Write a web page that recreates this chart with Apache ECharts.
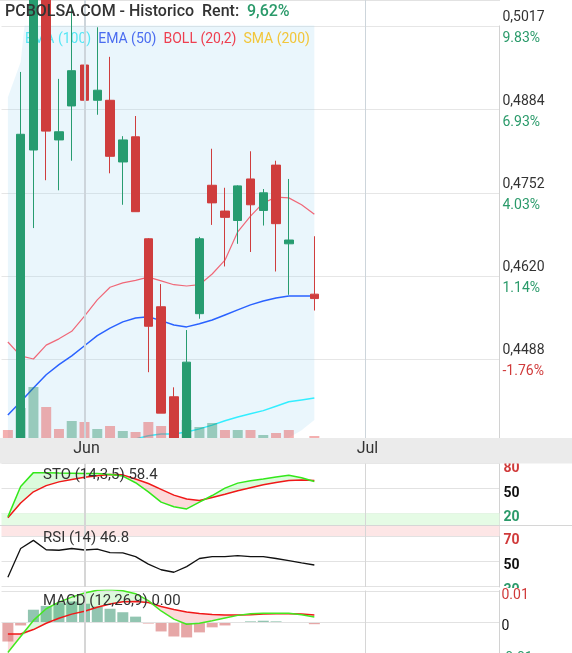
<!DOCTYPE html>
<html><head><meta charset="utf-8">
<script src="https://cdn.jsdelivr.net/npm/echarts@6/dist/echarts.min.js"></script>
<style>html,body{margin:0;padding:0;background:#fff}#c{width:572px;height:653px}</style>
</head><body><div id="c"></div>
<script>
// ---------- DATA ----------
const categories = ['2020-05-22','2020-05-25','2020-05-26','2020-05-27','2020-05-28','2020-05-29',
  '2020-06-01','2020-06-02','2020-06-03','2020-06-04','2020-06-05',
  '2020-06-08','2020-06-09','2020-06-10','2020-06-11','2020-06-12',
  '2020-06-15','2020-06-16','2020-06-17','2020-06-18','2020-06-19',
  '2020-06-22','2020-06-23','2020-06-24','2020-06-25','2020-06-26',
  '2020-06-29','2020-06-30',
  '2020-07-01','2020-07-02','2020-07-03','2020-07-06','2020-07-07','2020-07-08','2020-07-09','2020-07-10',
  '2020-07-13','2020-07-14','2020-07-15'];
const monthNames = ['Ene','Feb','Mar','Abr','May','Jun','Jul','Ago','Sep','Oct','Nov','Dic'];

// [open, close, low, high]
const candles = [
  [0.4335,0.4310,0.4300,0.4350],
  [0.4346,0.4845,0.4343,0.4944],
  [0.4820,0.5100,0.4696,0.5120],
  [0.5090,0.4850,0.4772,0.5110],
  [0.4836,0.4849,0.4756,0.4933],
  [0.4890,0.4946,0.4803,0.5050],
  [0.4955,0.4899,0.4771,0.4957],
  [0.4899,0.4915,0.4876,0.5015],
  [0.4899,0.4810,0.4783,0.4968],
  [0.4801,0.4836,0.4733,0.4842],
  [0.4841,0.4722,0.4722,0.4874],
  [0.4679,0.4540,0.4467,0.4680],
  [0.4571,0.4402,0.4402,0.4607],
  [0.4428,0.4347,0.4345,0.4443],
  [0.4348,0.4483,0.4345,0.4534],
  [0.4560,0.4679,0.4552,0.4682],
  [0.4764,0.4736,0.4701,0.4822],
  [0.4723,0.4713,0.4635,0.4760],
  [0.4708,0.4763,0.4671,0.4764],
  [0.4774,0.4733,0.4658,0.4818],
  [0.4724,0.4752,0.4700,0.4758],
  [0.4796,0.4703,0.4627,0.4803],
  [0.4671,0.4677,0.4590,0.4774],
  ['-','-','-','-'],
  [0.4591,0.4584,0.4565,0.4683]
];
const volumes = [80,300,510,310,90,170,160,90,120,70,60,160,120,220,180,110,150,80,80,80,30,50,80,'-',20];

const bollMid   = [0.4515,0.4493,0.4488,0.4510,0.4520,0.4532,0.4556,0.4582,0.4602,0.4609,0.4613,0.4618,0.4612,0.4606,0.4604,0.4606,0.4623,0.4645,0.4690,0.4715,0.4736,0.4745,0.4744,0.4733,0.4718];
const bollUpper = [0.4904,0.4960,0.5150,0.5200,0.5210,0.5230,0.5250,0.5260,0.5270,0.5250,0.5240,0.5250,0.5280,0.5300,0.5300,0.5280,0.5250,0.5200,0.5150,0.5120,0.5130,0.5140,0.5125,0.5091,0.5045];
const bollLower = [0.4126,0.4026,0.3826,0.3820,0.3830,0.3834,0.3862,0.3904,0.3934,0.3968,0.3986,0.3986,0.3944,0.3912,0.3908,0.3932,0.3996,0.4090,0.4230,0.4310,0.4340,0.4350,0.4363,0.4375,0.4391];
const ema50  = [0.4399,0.4420,0.4442,0.4463,0.4479,0.4493,0.4509,0.4525,0.4537,0.4547,0.4553,0.4555,0.4549,0.4542,0.4539,0.4544,0.4550,0.4558,0.4566,0.4574,0.4580,0.4585,0.4588,0.4588,0.4588];
const ema100 = [0.4280,0.4290,0.4302,0.4313,0.4322,0.4332,0.4340,0.4348,0.4354,0.4358,0.4361,0.4366,0.4369,0.4369,0.4372,0.4377,0.4383,0.4390,0.4396,0.4401,0.4406,0.4413,0.4420,0.4423,0.4426];

const stoK = [15.7,52.4,69.2,69.2,68.8,68.5,68.2,68.0,67.0,65.0,57.0,46.0,33.5,28.0,25.3,33.5,41.5,50.5,56.5,59.5,61.5,64.0,66.0,63.0,58.4];
const stoD = [14.5,32.5,46.0,53.5,58.0,61.0,63.5,65.5,67.0,66.5,61.5,56.0,49.0,42.0,37.3,35.5,39.0,43.0,47.3,51.0,54.5,57.2,59.6,60.4,59.6];
const rsi  = [37.0,60.0,66.5,59.0,58.6,60.0,58.8,59.5,56.7,56.5,53.5,47.5,43.0,41.0,45.5,52.0,53.5,53.5,54.3,53.5,53.5,52.0,50.3,48.5,46.8];
const macd       = [-0.0096,-0.0045,0.0006,0.0043,0.0064,0.0080,0.0093,0.0102,0.0104,0.0100,0.0091,0.0069,0.0036,0.0010,-0.0006,-0.0003,0.0005,0.0014,0.0022,0.0027,0.0029,0.0029,0.0029,0.0024,0.0017];
const macdSignal = [-0.0037,-0.0037,-0.0023,-0.0003,0.0013,0.0026,0.0035,0.0048,0.0058,0.0065,0.0066,0.0063,0.0050,0.0041,0.0033,0.0028,0.0025,0.0023,0.0023,0.0024,0.0026,0.0027,0.0027,0.0026,0.0023];
const macdHist   = [-0.0061,-0.0010,0.0040,0.0052,0.0061,0.0066,0.0059,0.0050,0.0043,0.0032,0.0018,-0.0004,-0.0029,-0.0045,-0.0048,-0.0032,-0.0016,-0.0010,0.0000,0.0003,0.0005,0.0003,0.0000,0.0000,-0.0006];

const priceTicks = [0.4488,0.4620,0.4752,0.4884,0.5017];
const priceTickLabels = ['0,4488','0,4620','0,4752','0,4884','0,5017'];
const pctTickLabels = ['-1.76%','1.14%','4.03%','6.93%','9.83%'];
const stoTicks = [20,50,80];
const rsiTicks = [30,50,70];
const macdTicks = [-0.01,0,0.01];
const macdTickLabels = ['-0.01','0','0.01'];
const titleText = 'PCBOLSA.COM - Historico  Rent:';
const rentText = '9,62%';

// ---------- STYLE ----------
const FONT = 'Roboto, sans-serif';
const UP = '#279c70', DOWN = '#cf3d3d';
const GREEN_TXT = '#2a9a6a', RED_TXT = '#d03a3a';

const monthStarts = [];
categories.forEach((c, i) => { if (i > 0 && c.slice(5,7) !== categories[i-1].slice(5,7)) monthStarts.push(i); });
const monthLine = (color) => ({
  silent: true, symbol: ['none','none'], label: {show:false},
  data: monthStarts.map((idx, k) => ({xAxis: categories[idx], lineStyle: {color, width: k === 0 ? 2 : 1, type: 'solid'}}))
});

const closes = candles.map(c => c[1]);
function volColor(i) {
  if (i === 0) return closes[0] >= candles[0][0];
  let j = i - 1; while (j >= 0 && closes[j] === '-') j--;
  return closes[i] >= closes[j];
}
const volData = volumes.map((v, i) => v === '-' ? '-' :
  {value: v, itemStyle: {color: volColor(i) ? 'rgba(38,140,100,0.42)' : 'rgba(230,80,80,0.45)'}});

const bollBand = bollUpper.map((u, i) => u - bollLower[i]);
const stoBase = stoK.map((k, i) => Math.min(k, stoD[i]));
const stoUp = stoK.map((k, i) => Math.max(k - stoD[i], 0));
const stoDn = stoK.map((k, i) => Math.max(stoD[i] - k, 0));
const mBase = macd.map((m, i) => Math.min(m, macdSignal[i]));
const mUp = macd.map((m, i) => Math.max(m - macdSignal[i], 0));
const mDn = macd.map((m, i) => Math.max(macdSignal[i] - m, 0));
const histData = macdHist.map(v => ({value: v, itemStyle: {color: v >= 0 ? 'rgba(38,140,100,0.5)' : 'rgba(200,60,60,0.45)'}}));

function nearest(arr, v) { let b = 0; arr.forEach((t, i) => { if (Math.abs(t - v) < Math.abs(arr[b] - v)) b = i; }); return b; }

const GL = 1.5, GR = 72.5;
const hiddenX = (g) => ({type: 'category', gridIndex: g, data: categories, boundaryGap: true,
  axisLine: {show:false}, axisTick: {show:false}, axisLabel: {show:false}, splitLine: {show:false}});
const noLine = {lineStyle: {opacity: 0}, showSymbol: false, symbol: 'none'};
const rightAxisLine = {show: true, lineStyle: {color: '#d2d2d2', width: 1}};
const mkRich = (w) => ({
  r: {color: RED_TXT, fontSize: 14, fontWeight: w, fontFamily: FONT},
  k: {color: '#111', fontSize: 14, fontWeight: w, fontFamily: FONT},
  g: {color: GREEN_TXT, fontSize: 14, fontWeight: w, fontFamily: FONT}
});
const lowAxis = (g, min, max, ticks, fmt, z, margin, w) => ({
  type: 'value', gridIndex: g, position: 'right', min, max, z: z || 0,
  axisLine: rightAxisLine, axisTick: {show: false, customValues: ticks},
  axisLabel: {customValues: ticks, margin: margin, padding: [9,0,0,0], formatter: fmt, rich: mkRich(w)},
  splitLine: {show: true, lineStyle: {color: '#e2e2e2'}}
});
const signCls = (v, eps) => v > eps ? 'r' : v < -eps ? 'g' : 'k';

const gridBase = {left: GL, right: GR, outerBoundsMode: 'none', containLabel: false};
const option = {
  animation: false,
  backgroundColor: '#fff',
  textStyle: {fontFamily: FONT},
  grid: [
    Object.assign({top: 0, height: 438}, gridBase),
    Object.assign({top: 463.7, height: 62}, gridBase),
    Object.assign({top: 526, height: 61}, gridBase),
    Object.assign({top: 590.5, height: 64.5}, gridBase)
  ],
  legend: {
    left: 20, top: 32, padding: 0, itemGap: 2, itemWidth: 0, itemHeight: 0, icon: 'rect', z: 1.5,
    selectedMode: false, textStyle: {fontSize: 14, fontFamily: FONT},
    data: [
      {name: 'EMA (100)', textStyle: {color: '#55e6f4'}},
      {name: 'EMA (50)', textStyle: {color: '#4a6cf0'}},
      {name: 'BOLL (20,2)', textStyle: {color: '#ee3f50'}},
      {name: 'SMA (200)', textStyle: {color: '#f2c63a'}}
    ]
  },
  xAxis: [
    {type: 'category', gridIndex: 0, data: categories, boundaryGap: true, z: 6,
      axisLine: {show: false}, axisTick: {show: false},
      axisLabel: {interval: (i) => monthStarts.includes(i), margin: 3, color: '#333', fontSize: 16, fontFamily: FONT,
        padding: [0,0,0,4],
        formatter: (v) => monthNames[parseInt(v.slice(5,7), 10) - 1]},
      splitLine: {show: false}},
    hiddenX(1), hiddenX(2), hiddenX(3)
  ],
  yAxis: [
    {type: 'value', gridIndex: 0, position: 'right', min: 0.43625, max: 0.50583,
      axisLine: rightAxisLine, axisTick: {show: false, customValues: priceTicks},
      axisLabel: {customValues: priceTicks, margin: 3, padding: [4,0,0,0],
        formatter: (v) => { const i = nearest(priceTicks, v); const cls = pctTickLabels[i][0] === '-' ? 'n' : 'u';
          return '{p|' + priceTickLabels[i] + '}\n{' + cls + '|' + pctTickLabels[i] + '}'; },
        rich: {
          p: {color: '#333', fontSize: 14, fontFamily: FONT, lineHeight: 21},
          u: {color: GREEN_TXT, fontSize: 14, fontFamily: FONT, lineHeight: 21},
          n: {color: RED_TXT, fontSize: 14, fontFamily: FONT, lineHeight: 21}
        }},
      splitLine: {show: true, lineStyle: {color: '#e6e6e6'}}},
    {type: 'value', gridIndex: 0, min: 0, max: 4380, show: false, splitLine: {show: false}},
    lowAxis(1, 5, 80, stoTicks, (v) => '{' + signCls(v - 50, 0) + '|' + v + '}', 0, 4, 'bold'),
    lowAxis(2, 29.2, 78, rsiTicks, (v) => '{' + signCls(v - 50, 0) + '|' + v + '}', 0, 4, 'bold'),
    lowAxis(3, -0.01038, 0.0101, macdTicks,
      (v) => { const i = nearest(macdTicks, v); return '{' + signCls(macdTicks[i], 0.001) + '|' + macdTickLabels[i] + '}'; }, 2, 2, 'normal')
  ],
  series: [
    {type: 'line', name: 'mlMain', xAxisIndex: 0, yAxisIndex: 0, data: [], z: 0.5, markLine: monthLine('#cdd5db')},
    Object.assign({type: 'line', name: 'bollLo', xAxisIndex: 0, yAxisIndex: 0, data: bollLower, stack: 'boll', stackStrategy: 'all', z: 1, silent: true}, noLine),
    Object.assign({type: 'line', name: 'bollBand', xAxisIndex: 0, yAxisIndex: 0, data: bollBand, stack: 'boll', stackStrategy: 'all', z: 1, silent: true,
      areaStyle: {color: 'rgba(160,215,240,0.22)', opacity: 1}}, noLine),
    {type: 'line', name: 'EMA (100)', xAxisIndex: 0, yAxisIndex: 0, data: ema100, symbol: 'none', color: '#33eeff', lineStyle: {color: '#33eeff', width: 1.5}, z: 2},
    {type: 'line', name: 'EMA (50)', xAxisIndex: 0, yAxisIndex: 0, data: ema50, symbol: 'none', color: '#2a62ff', lineStyle: {color: '#2a62ff', width: 1.5}, z: 2},
    {type: 'line', name: 'BOLL (20,2)', xAxisIndex: 0, yAxisIndex: 0, data: bollMid, symbol: 'none', color: '#f06878', lineStyle: {color: '#f06878', width: 1.2}, z: 2},
    {type: 'line', name: 'SMA (200)', xAxisIndex: 0, yAxisIndex: 0, data: [], symbol: 'none', color: '#f2c63a'},
    {type: 'bar', name: 'vol', xAxisIndex: 0, yAxisIndex: 1, data: volData, barWidth: 10, z: 2.5},
    {type: 'candlestick', name: 'price', xAxisIndex: 0, yAxisIndex: 0, data: candles, barWidth: 9, z: 3, clip: true,
      itemStyle: {color: UP, color0: DOWN, borderColor: UP, borderColor0: DOWN, borderWidth: 1}},

    // STO
    Object.assign({type: 'line', xAxisIndex: 1, yAxisIndex: 2, data: stoBase, stack: 'sto', stackStrategy: 'all', z: 1, silent: true,
      markArea: {silent: true, itemStyle: {color: '#e5fbe5'}, data: [[{yAxis: 5}, {yAxis: 20}]]},
      markLine: monthLine('#d6d6d6')}, noLine),
    Object.assign({type: 'line', xAxisIndex: 1, yAxisIndex: 2, data: stoUp, stack: 'sto', stackStrategy: 'all', z: 1.2, silent: true,
      areaStyle: {color: 'rgba(40,230,40,0.16)', opacity: 1}}, noLine),
    Object.assign({type: 'line', xAxisIndex: 1, yAxisIndex: 2, data: stoDn, stack: 'sto', stackStrategy: 'all', z: 1.2, silent: true,
      areaStyle: {color: 'rgba(240,70,70,0.2)', opacity: 1}}, noLine),
    {type: 'line', xAxisIndex: 1, yAxisIndex: 2, data: stoD, symbol: 'none', lineStyle: {color: '#f01818', width: 1.5}, z: 2},
    {type: 'line', xAxisIndex: 1, yAxisIndex: 2, data: stoK, symbol: 'none', lineStyle: {color: '#33e81a', width: 1.5}, z: 2.1},

    // RSI
    {type: 'line', xAxisIndex: 2, yAxisIndex: 3, data: rsi, symbol: 'none', lineStyle: {color: '#111', width: 1.3}, z: 2,
      markArea: {silent: true, itemStyle: {color: '#fde6e6'}, data: [[{yAxis: 70}, {yAxis: 78}]]},
      markLine: monthLine('#d6d6d6')},

    // MACD
    Object.assign({type: 'line', xAxisIndex: 3, yAxisIndex: 4, data: mBase, stack: 'macd', stackStrategy: 'all', z: 1, silent: true,
      markLine: monthLine('#d6d6d6')}, noLine),
    Object.assign({type: 'line', xAxisIndex: 3, yAxisIndex: 4, data: mUp, stack: 'macd', stackStrategy: 'all', z: 1.2, silent: true,
      areaStyle: {color: 'rgba(40,230,40,0.16)', opacity: 1}}, noLine),
    Object.assign({type: 'line', xAxisIndex: 3, yAxisIndex: 4, data: mDn, stack: 'macd', stackStrategy: 'all', z: 1.2, silent: true,
      areaStyle: {color: 'rgba(240,70,70,0.2)', opacity: 1}}, noLine),
    {type: 'bar', xAxisIndex: 3, yAxisIndex: 4, data: histData, barWidth: 11, z: 1.5},
    {type: 'line', xAxisIndex: 3, yAxisIndex: 4, data: macdSignal, symbol: 'none', lineStyle: {color: '#f01818', width: 1.5}, z: 2},
    {type: 'line', xAxisIndex: 3, yAxisIndex: 4, data: macd, symbol: 'none', lineStyle: {color: '#44e820', width: 1.5}, z: 2.1}
  ],
  graphic: [
    {type: 'rect', shape: {x: 0, y: 0, width: 500, height: 25.5}, style: {fill: '#fff'}, z: 1.6, silent: true},
    {type: 'line', shape: {x1: 0, y1: 0.5, x2: 500, y2: 0.5}, style: {stroke: '#e2e2e2', lineWidth: 1}, z: 1.7, silent: true},
    {type: 'rect', shape: {x: 0, y: 438, width: 572, height: 25.5}, style: {fill: '#ebebeb'}, z: 5, silent: true},
    {type: 'line', shape: {x1: 0, y1: 525.5, x2: 572, y2: 525.5}, style: {stroke: '#d6d6d6', lineWidth: 1}, z: 5, silent: true},
    {type: 'rect', shape: {x: 500.5, y: 588, width: 72, height: 66}, style: {fill: '#fff'}, z: 1.7, silent: true},
    {type: 'text', x: 5, y: 11.5, z: 10, style: {text: titleText, fill: '#333', font: '500 16px Roboto, sans-serif', verticalAlign: 'middle'}},
    {type: 'text', x: 247, y: 11.5, z: 10, style: {text: rentText, fill: GREEN_TXT, font: '500 16px Roboto, sans-serif', verticalAlign: 'middle'}},
    {type: 'text', x: 43, y: 475, z: 10, style: {text: 'STO (14,3,5) ' + stoK[stoK.length-1].toFixed(1), fill: '#333', font: '15px Roboto, sans-serif', verticalAlign: 'middle'}},
    {type: 'text', x: 43, y: 538, z: 10, style: {text: 'RSI (14) ' + rsi[rsi.length-1].toFixed(1), fill: '#333', font: '15px Roboto, sans-serif', verticalAlign: 'middle'}},
    {type: 'text', x: 43, y: 601, z: 10, style: {text: 'MACD (12,26,9) ' + macd[macd.length-1].toFixed(2), fill: '#333', font: '15px Roboto, sans-serif', verticalAlign: 'middle'}}
  ]
};
const chart = echarts.init(document.getElementById('c'), null, {renderer: 'canvas'});
chart.setOption(option);
</script>
</body></html>
